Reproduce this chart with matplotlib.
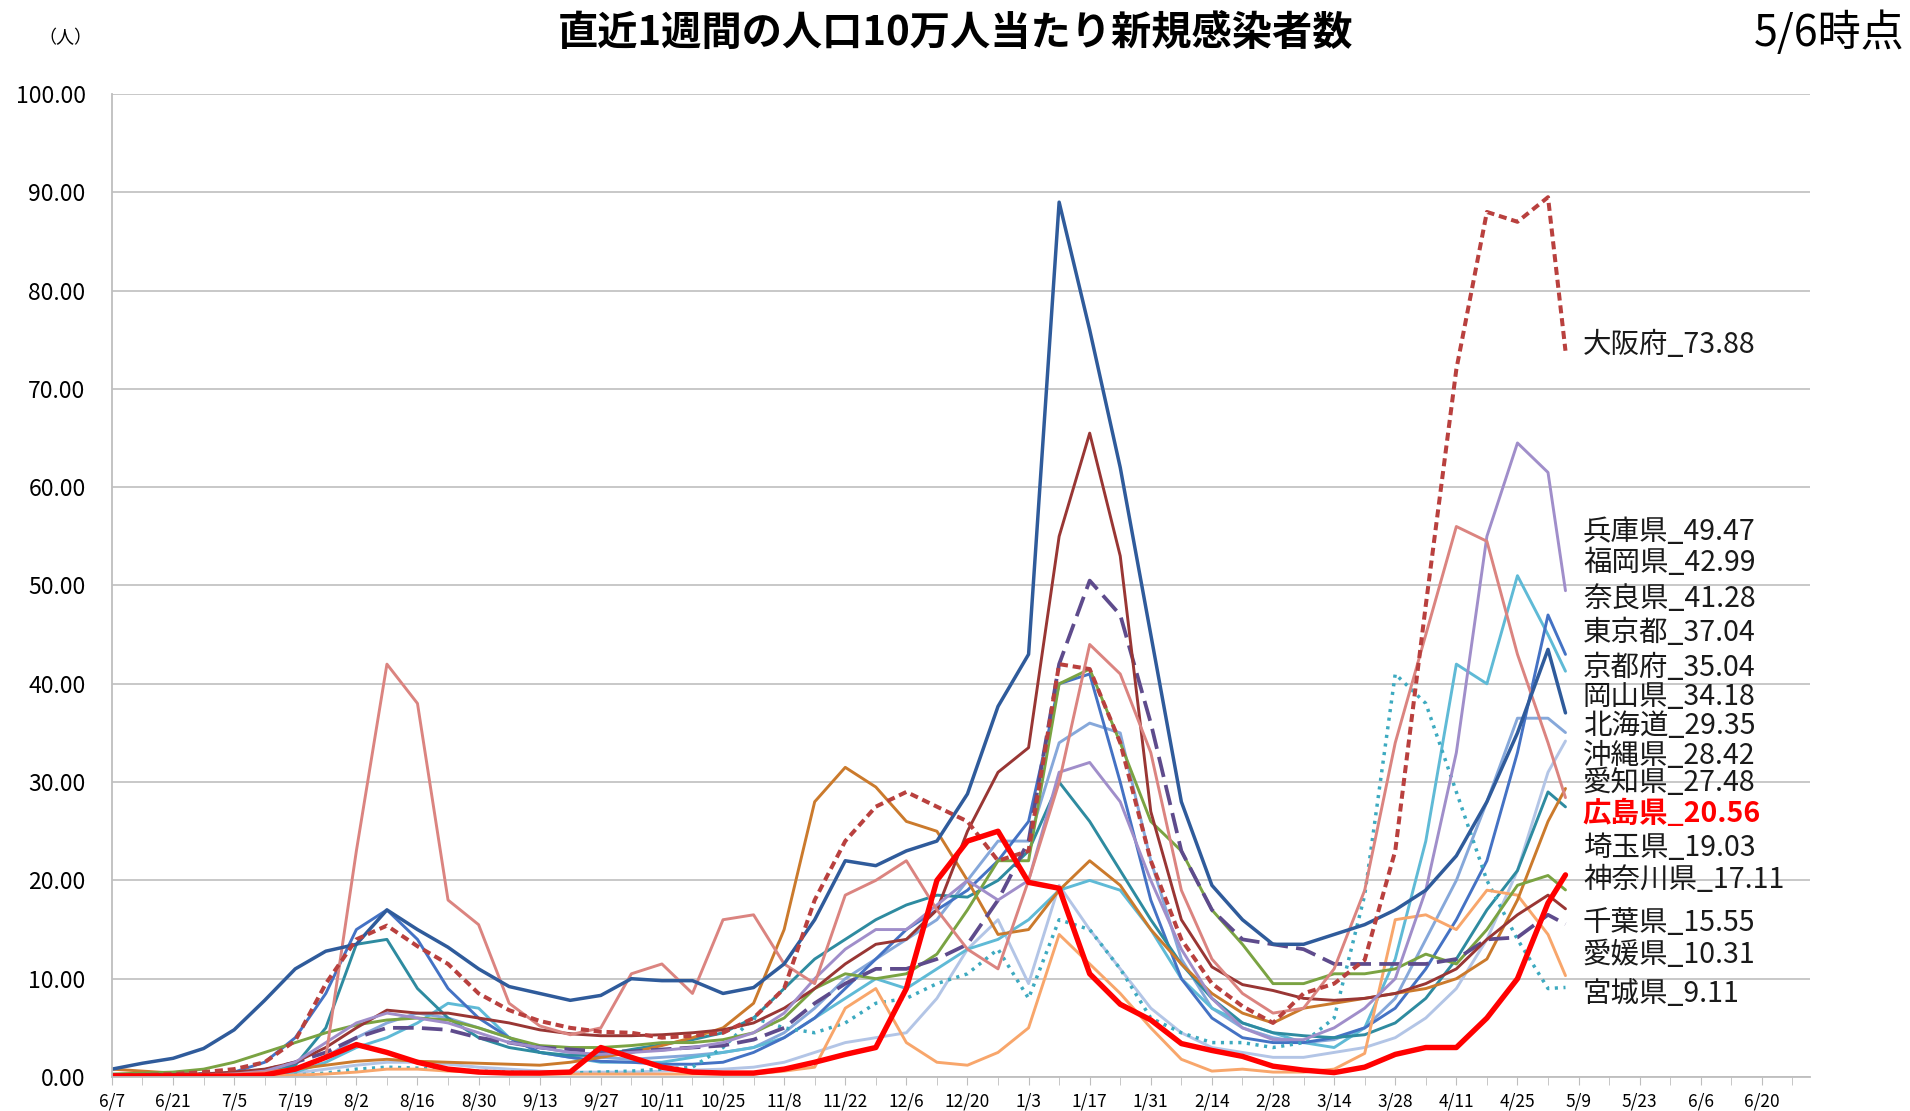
import pandas as pd
import matplotlib
matplotlib.use("Agg")
import matplotlib.pyplot as plt

plt.rcParams['font.family'] = ['Noto Sans CJK JP', 'DejaVu Sans']

# weekly samples (last point = 5/6)
dates = list(pd.date_range("2020-06-07", "2021-05-02", freq="7D")) + [pd.Timestamp("2021-05-06")]

tokyo = [0.8, 1.4, 1.9, 2.9, 4.8, 7.8, 11.0, 12.8, 13.5, 17.0,
         15.0, 13.2, 11.0, 9.2, 8.5, 7.8, 8.3, 10.0, 9.8, 9.8,
         8.5, 9.1, 11.5, 16.0, 22.0, 21.5, 23.0, 24.0, 28.8, 37.7,
         43.0, 89.0, 76.0, 62.0, 45.0, 28.0, 19.5, 16.0, 13.5, 13.5,
         14.5, 15.5, 17.0, 19.0, 22.5, 28.0, 35.0, 43.5, 37.04]
osaka = [0.2, 0.2, 0.3, 0.5, 0.8, 1.5, 3.7, 9.5, 14.0, 15.4,
         13.3, 11.5, 8.5, 6.8, 5.7, 5.0, 4.6, 4.5, 4.0, 4.2,
         4.5, 6.0, 9.0, 18.0, 24.0, 27.5, 29.0, 27.5, 26.0, 22.0,
         23.0, 42.0, 41.5, 34.0, 22.0, 14.0, 9.5, 7.2, 5.5, 8.5,
         9.5, 11.9, 23.0, 48.0, 72.0, 88.0, 87.0, 89.5, 73.88]
hyogo = [0.1, 0.1, 0.1, 0.2, 0.3, 0.6, 1.5, 3.5, 5.5, 6.5,
         6.0, 5.5, 4.5, 3.5, 3.0, 2.5, 2.3, 2.5, 2.7, 3.0,
         3.5, 4.5, 6.5, 10.0, 13.0, 15.0, 15.0, 17.5, 20.0, 18.0,
         20.0, 31.0, 32.0, 28.0, 20.0, 13.0, 8.0, 5.0, 3.8, 3.8,
         5.0, 7.0, 10.0, 19.0, 33.0, 55.0, 64.5, 61.5, 49.47]
okinawa = [0.1, 0.1, 0.1, 0.2, 0.3, 0.5, 0.8, 2.0, 23.0, 42.0,
           38.0, 18.0, 15.5, 7.5, 5.2, 4.3, 5.0, 10.5, 11.5, 8.5,
           16.0, 16.5, 11.5, 9.5, 18.5, 20.0, 22.0, 17.0, 13.0, 11.0,
           20.0, 30.0, 44.0, 41.0, 33.0, 19.0, 12.0, 8.5, 6.5, 7.0,
           11.0, 19.0, 34.0, 45.0, 56.0, 54.5, 43.0, 34.0, 28.42]
hokkaido = [0.8, 0.6, 0.4, 0.3, 0.4, 0.6, 0.8, 1.2, 1.6, 1.8,
            1.6, 1.5, 1.4, 1.3, 1.2, 1.5, 2.0, 2.5, 3.2, 4.0,
            5.0, 7.5, 15.0, 28.0, 31.5, 29.5, 26.0, 25.0, 20.0, 14.5,
            15.0, 19.0, 22.0, 19.5, 15.0, 11.5, 8.5, 6.5, 5.5, 7.0,
            7.5, 8.0, 8.5, 9.0, 10.0, 12.0, 18.0, 26.0, 29.35]
aichi = [0.1, 0.1, 0.1, 0.1, 0.2, 0.4, 1.2, 5.0, 13.5, 14.0,
         9.0, 6.0, 4.0, 3.0, 2.5, 2.2, 2.2, 2.8, 3.3, 3.8,
         4.5, 6.0, 9.0, 12.0, 14.0, 16.0, 17.5, 18.5, 18.3, 20.0,
         23.0, 30.0, 26.0, 21.0, 16.0, 11.5, 8.0, 5.5, 4.5, 4.2,
         4.0, 4.3, 5.5, 8.0, 12.0, 17.0, 21.0, 29.0, 27.48]
saitama = [0.3, 0.4, 0.5, 0.8, 1.5, 2.5, 3.5, 4.5, 5.3, 5.8,
           6.0, 5.8, 5.0, 4.0, 3.2, 3.0, 3.0, 3.2, 3.5, 3.5,
           3.8, 4.5, 6.0, 9.0, 10.5, 10.0, 10.5, 12.5, 17.0, 22.0,
           22.0, 40.0, 41.5, 34.0, 26.0, 23.0, 17.0, 13.5, 9.5, 9.5,
           10.5, 10.5, 11.0, 12.5, 11.5, 15.0, 19.5, 20.5, 19.03]
kanagawa = [0.2, 0.2, 0.2, 0.3, 0.5, 0.8, 1.5, 3.0, 5.0, 6.8,
            6.5, 6.5, 6.0, 5.5, 4.8, 4.4, 4.2, 4.2, 4.3, 4.5,
            4.8, 5.5, 7.0, 9.0, 11.5, 13.5, 14.0, 17.0, 25.0, 31.0,
            33.5, 55.0, 65.5, 53.0, 27.0, 16.0, 11.2, 9.4, 8.8, 8.0,
            7.8, 8.0, 8.5, 9.5, 11.0, 14.0, 16.5, 18.5, 17.11]
chiba = [0.2, 0.2, 0.2, 0.3, 0.4, 0.7, 1.5, 2.5, 4.0, 5.0,
         5.0, 4.8, 4.0, 3.5, 3.0, 2.8, 2.6, 2.6, 2.8, 3.0,
         3.2, 3.8, 5.0, 7.5, 9.5, 11.0, 11.0, 12.0, 13.5, 18.0,
         24.0, 42.0, 50.5, 47.0, 36.0, 23.0, 17.0, 14.0, 13.5, 13.0,
         11.5, 11.5, 11.5, 11.5, 12.0, 14.0, 14.2, 16.5, 15.55]
hiroshima = [0.1, 0.1, 0.1, 0.1, 0.1, 0.2, 0.8, 2.0, 3.3, 2.5,
             1.5, 0.8, 0.5, 0.4, 0.4, 0.5, 3.0, 2.0, 1.0, 0.5,
             0.4, 0.4, 0.8, 1.5, 2.3, 3.0, 9.0, 20.0, 24.0, 25.0,
             19.8, 19.2, 10.5, 7.4, 5.8, 3.4, 2.7, 2.1, 1.1, 0.7,
             0.45, 1.0, 2.3, 3.0, 3.0, 6.0, 10.0, 17.7, 20.56]
ehime = [0.1, 0.1, 0.1, 0.1, 0.1, 0.1, 0.2, 0.3, 0.5, 0.8,
         0.8, 0.6, 0.5, 0.4, 0.3, 0.3, 0.3, 0.3, 0.3, 0.3,
         0.3, 0.3, 0.6, 1.0, 7.0, 9.0, 3.5, 1.5, 1.2, 2.5,
         5.0, 14.5, 11.5, 8.5, 5.0, 1.8, 0.6, 0.8, 0.5, 0.5,
         0.8, 2.4, 16.0, 16.5, 15.0, 19.0, 18.5, 14.5, 10.31]
miyagi = [0.1, 0.1, 0.1, 0.1, 0.1, 0.1, 0.2, 0.4, 0.8, 1.0,
          0.9, 0.8, 0.6, 0.5, 0.4, 0.4, 0.5, 0.6, 0.8, 1.0,
          3.0, 6.0, 5.0, 4.5, 5.5, 7.5, 8.0, 9.5, 10.5, 13.0,
          8.0, 16.0, 15.0, 11.0, 6.0, 4.5, 3.5, 3.5, 3.0, 3.5,
          6.0, 18.5, 41.0, 38.0, 29.0, 20.0, 14.0, 9.0, 9.11]
fukuoka = [0.2, 0.1, 0.1, 0.2, 0.5, 1.5, 4.0, 8.5, 15.0, 17.0,
           14.0, 9.0, 6.0, 4.0, 2.5, 2.0, 1.6, 1.5, 1.3, 1.3,
           1.5, 2.5, 4.0, 6.0, 9.0, 12.0, 15.0, 17.0, 19.0, 22.0,
           26.0, 40.0, 41.0, 30.0, 18.0, 10.0, 6.0, 4.0, 3.5, 3.5,
           4.0, 5.0, 7.0, 11.0, 16.0, 22.0, 33.0, 47.0, 42.99]
kyoto = [0.1, 0.1, 0.1, 0.1, 0.2, 0.4, 0.8, 2.0, 4.0, 5.5,
         6.5, 6.0, 5.0, 4.0, 3.0, 2.5, 2.0, 1.8, 2.0, 2.2,
         2.5, 3.0, 4.5, 7.0, 10.0, 12.0, 14.0, 16.0, 20.0, 24.0,
         24.0, 34.0, 36.0, 35.0, 22.0, 12.0, 7.0, 5.0, 4.0, 3.5,
         3.8, 5.0, 8.0, 14.0, 20.0, 28.0, 36.5, 36.5, 35.04]
okayama = [0.1, 0.1, 0.1, 0.1, 0.1, 0.2, 0.4, 0.8, 1.2, 1.5,
           1.5, 1.3, 1.0, 0.8, 0.6, 0.5, 0.5, 0.5, 0.6, 0.7,
           0.8, 1.0, 1.5, 2.5, 3.5, 4.0, 4.5, 8.0, 13.0, 16.0,
           9.5, 19.5, 15.0, 11.0, 7.0, 4.5, 3.0, 2.5, 2.0, 2.0,
           2.5, 3.0, 4.0, 6.0, 9.0, 14.0, 21.0, 31.0, 34.18]
nara = [0.1, 0.1, 0.1, 0.1, 0.2, 0.3, 0.5, 1.5, 3.0, 4.0,
        5.5, 7.5, 7.0, 4.0, 2.5, 2.0, 1.5, 1.5, 1.5, 2.0,
        2.5, 3.0, 4.0, 6.0, 8.0, 10.0, 9.0, 11.0, 13.0, 14.0,
        16.0, 19.0, 20.0, 19.0, 15.0, 10.0, 7.0, 5.5, 4.5, 3.5,
        3.0, 5.0, 12.0, 24.0, 42.0, 40.0, 51.0, 45.0, 41.28]

label_names = ['大阪府', '兵庫県', '福岡県', '奈良県', '東京都', '京都府', '岡山県', '北海道',
               '沖縄県', '愛知県', '広島県', '埼玉県', '神奈川県', '千葉県', '愛媛県', '宮城県']
label_values = [73.88, 49.47, 42.99, 41.28, 37.04, 35.04, 34.18, 29.35,
                28.42, 27.48, 20.56, 19.03, 17.11, 15.55, 10.31, 9.11]
label_pos = [74.5, 55.4, 52.3, 48.6, 45.2, 41.6, 38.7, 35.7,
             32.7, 29.9, 26.8, 23.3, 20.0, 15.7, 12.4, 8.4]

# drawing order: bottom first
lines = [
    (okayama, '#B3C5E6', 2.1, '-'),
    (kyoto, '#86A8DA', 2.1, '-'),
    (nara, '#5FBAD6', 2.1, '-'),
    (fukuoka, '#4472C4', 2.1, '-'),
    (aichi, '#2E8BA0', 2.1, '-'),
    (miyagi, '#3DAAC0', 2.5, (0, (0.9, 1.6))),
    (ehime, '#F8A66B', 2.1, '-'),
    (hokkaido, '#CB7A2C', 2.1, '-'),
    (saitama, '#7AA342', 2.1, '-'),
    (chiba, '#5E4B8C', 2.7, (0, (5.5, 2.2))),
    (kanagawa, '#993634', 2.1, '-'),
    (hyogo, '#A08ECA', 2.1, '-'),
    (okinawa, '#DB8480', 2.1, '-'),
    (tokyo, '#2F5B9B', 2.5, '-'),
    (osaka, '#B9403E', 2.9, (0, (2.0, 1.2))),
    (hiroshima, '#FF0000', 3.9, '-'),
]

fig = plt.figure(figsize=(19.1, 11.11), dpi=100)
ax = fig.add_axes([0.0586, 0.0306, 0.889, 0.8848])

for vals, col, lw, ls in lines:
    ax.plot(dates, vals, color=col, lw=lw, ls=ls, solid_capstyle='round')

start = pd.Timestamp("2020-06-07")
ax.set_xlim(start, start + pd.Timedelta(days=389))
ax.set_ylim(0, 100)

major = pd.date_range(start, "2021-06-20", freq="14D")
minor = pd.date_range(start, "2021-06-27", freq="7D")
ax.set_xticks(major)
ax.set_xticklabels([f"{d.month}/{d.day}" for d in major], fontsize=12.5)
ax.set_xticks(minor, minor=True)
ax.tick_params(axis='x', which='both', length=6, color='#BEBEBE', pad=5)

yt = list(range(0, 101, 10))
ax.set_yticks(yt)
ax.set_yticklabels([f"{v:.2f}" for v in yt], fontsize=16.5)
ax.tick_params(axis='y', length=0, pad=19)

ax.yaxis.grid(True, color='#C4C4C4', lw=1.3)
ax.set_axisbelow(True)
for s in ['top', 'right']:
    ax.spines[s].set_visible(False)
for s in ['left', 'bottom']:
    ax.spines[s].set_color('#BEBEBE')
    ax.spines[s].set_linewidth(1.3)

lab_x = pd.Timestamp("2021-05-10")
for name, val, y in zip(label_names, label_values, label_pos):
    if name == '広島県':
        ax.text(lab_x, y, f"{name}_{val:.2f}", fontsize=20.5, color='#FF0000',
                fontweight='bold', va='center', ha='left')
    else:
        ax.text(lab_x, y, f"{name}_{val:.2f}", fontsize=20.5, color='#1A1A1A',
                va='center', ha='left')

fig.text(0.5, 0.97, '直近1週間の人口10万人当たり新規感染者数', ha='center', va='center',
         fontsize=29, fontweight='bold')
fig.text(0.997, 0.97, '5/6時点', ha='right', va='center', fontsize=31)
fig.text(0.034, 0.966, '（人）', ha='center', va='center', fontsize=13)

fig.savefig('out.png', dpi=100)
